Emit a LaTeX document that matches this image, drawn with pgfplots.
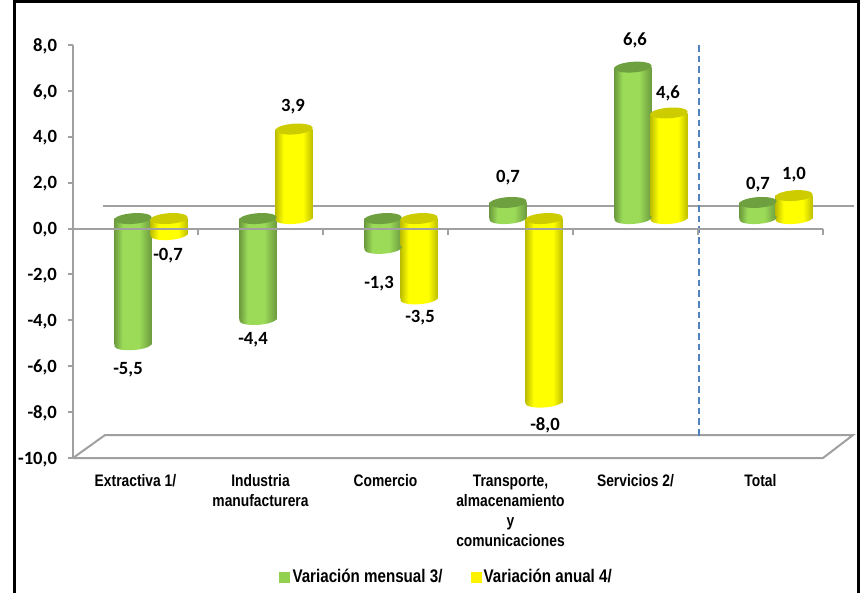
\documentclass[border=0pt]{standalone}
\usepackage{fontspec}
\usepackage{pgfplots}
\usepackage{pgfplotstable}
\pgfplotsset{compat=1.18}
\setmainfont{Carlito}
\newfontfamily\narrowfont[FakeStretch=0.83]{Liberation Sans}

\definecolor{axgray}{HTML}{A0A0A0}
\definecolor{gmid}{HTML}{9BDB58}
\definecolor{gdark}{HTML}{6C9A3E}
\definecolor{gcap}{HTML}{6FA040}
\definecolor{ymid}{HTML}{FFFF00}
\definecolor{ydark}{HTML}{BDBD00}
\definecolor{ycap}{HTML}{CCCC00}
\definecolor{dashblue}{HTML}{4F81BD}
\definecolor{leggreen}{HTML}{92D050}

\pgfdeclarehorizontalshading{cylgreen}{100bp}{color(0bp)=(gdark);color(25bp)=(gdark);color(36bp)=(gmid);color(58bp)=(gmid);color(75bp)=(gdark);color(100bp)=(gdark)}
\pgfdeclarehorizontalshading{cylyellow}{100bp}{color(0bp)=(ydark);color(25bp)=(ydark);color(36bp)=(ymid);color(62bp)=(ymid);color(75bp)=(ydark);color(100bp)=(ydark)}

% bar ends
\newcommand\capellipse{\pgfpathellipse{\pgfpointorigin}{\pgfqpoint{14pt}{1pt}}{\pgfqpoint{-0.3pt}{4pt}}}
\pgfdeclareplotmark{gtop}{\capellipse\pgfsetfillcolor{gcap}\pgfusepathqfill}
\pgfdeclareplotmark{ytop}{\capellipse\pgfsetfillcolor{ycap}\pgfusepathqfill}
\pgfdeclareplotmark{gend}{\capellipse\pgfshadepath{cylgreen}{0}\pgfusepath{discard}}
\pgfdeclareplotmark{yend}{\capellipse\pgfshadepath{cylyellow}{0}\pgfusepath{discard}}
\pgfdeclareplotmark{ztick}{\pgfpathmoveto{\pgfqpoint{0pt}{0pt}}\pgfpathlineto{\pgfqpoint{0pt}{-4.5pt}}\pgfusepathqstroke}

% x v low high
\pgfplotstableread{
x v low high
0 -5.5 -5.5 0
1 -4.4 -4.4 0
2 -1.3 -1.3 0
3 0.7 0 0.7
4 6.6 0 6.6
5 0.7 0 0.7
}\mensual
\pgfplotstableread{
x v low high
0 -0.7 -0.7 0
1 3.9 0 3.9
2 -3.5 -3.5 0
3 -8.0 -8.0 0
4 4.6 0 4.6
5 1.0 0 1.0
}\anual
\pgfplotstableread{
x y t
-0.06 -6.16 -5,5
0.26 -1.2 -0,7
0.94 -4.85 -4,4
1.26 5.33 3,9
1.948 -2.38 -1,3
2.276 -3.9 -3,5
2.98 2.2 0,7
3.276 -8.56 -8,0
3.996 8.2 6,6
4.26 5.9 4,6
4.98 1.93 0,7
5.268 2.37 1,0
}\etiquetas

\pgfplotsset{
  base/.style={
    scale only axis, width=562.5pt, height=309.75pt,
    xmin=-0.5, xmax=5.5, ymin=-10, ymax=8,
    clip=false,
  },
  gbar/.style={ybar,draw=none,bar width=28pt,bar shift=-13.5pt,shading=cylgreen},
  ybarr/.style={ybar,draw=none,bar width=28pt,bar shift=13.5pt,shading=cylyellow},
}

\begin{document}
\begin{tikzpicture}[x=0.75pt,y=0.75pt]
\path[use as bounding box] (0,0) rectangle (861,593);
\draw[black,line width=2.25pt] (14,0) -- (14,591) -- (858,591) -- (858,0);

% walls, floor, category names
\begin{axis}[base, at={(54.75pt,101.25pt)}, anchor=south west,
  axis x line=bottom, axis y line=left,
  axis line style={axgray,line width=1.5pt,-},
  x axis line style={draw=none},
  xtick={0,...,5},
  major x tick style={draw=none},
  xticklabels={Extractiva 1/,{Industria\\manufacturera},Comercio,{Transporte,\\almacenamiento\\y\\comunicaciones},Servicios 2/,Total},
  xticklabel style={align=center,font=\narrowfont\bfseries\fontsize{12.5}{15}\selectfont,yshift=-5pt},
  ytick={-10,-8,...,8},
  y tick style={axgray,line width=1.5pt},
  tick align=outside, major tick length=4pt,
  yticklabel style={font=\bfseries\fontsize{14}{14}\selectfont,xshift=-4.5pt,yshift=-1pt},
  /pgf/number format/assume math mode=true,
  y tick label style={/pgf/number format/.cd,fixed,fixed zerofill,precision=1,use comma},
]
\addplot[axgray,line width=1.5pt] coordinates {(-0.5,-10) (-0.244,-9) (5.74,-9) (5.5,-10) (-0.5,-10)};
\addplot[axgray,line width=1.5pt] coordinates {(-0.26,1) (5.75,1)};
\addplot[dashblue,line width=1.1pt,dash pattern=on 5pt off 3pt] coordinates {(4.508,8) (4.508,-9.13)};
\end{axis}

% cylinders, set back from the axes
\begin{axis}[base, at={(66.4pt,108.75pt)}, anchor=south west, hide axis]
\addplot[only marks,mark=gend,mark options={xshift=-13.5pt}] table[x=x,y=low] {\mensual};
\addplot[gbar] coordinates {(0,-5.5)};
\addplot[gbar] coordinates {(1,-4.4)};
\addplot[gbar] coordinates {(2,-1.3)};
\addplot[gbar] coordinates {(3,0.7)};
\addplot[gbar] coordinates {(4,6.6)};
\addplot[gbar] coordinates {(5,0.7)};
\addplot[only marks,mark=gtop,mark options={xshift=-13.5pt}] table[x=x,y=high] {\mensual};
\addplot[only marks,mark=yend,mark options={xshift=13.5pt}] table[x=x,y=low] {\anual};
\addplot[ybarr] coordinates {(0,-0.7)};
\addplot[ybarr] coordinates {(1,3.9)};
\addplot[ybarr] coordinates {(2,-3.5)};
\addplot[ybarr] coordinates {(3,-8.0)};
\addplot[ybarr] coordinates {(4,4.6)};
\addplot[ybarr] coordinates {(5,1.0)};
\addplot[only marks,mark=ytop,mark options={xshift=13.5pt}] table[x=x,y=high] {\anual};
\end{axis}

% zero line in front, value labels, legend
\begin{axis}[base, at={(54.75pt,101.25pt)}, anchor=south west, hide axis,
  legend style={at={(0.4985,-0.288)},anchor=center,draw=none,fill=none,legend columns=2,
    font=\narrowfont\bfseries\fontsize{13.7}{15}\selectfont,
    /tikz/every even column/.append style={column sep=19pt}},
  legend cell align=left,
  legend image code/.code={\fill[#1] (0pt,-3.75pt) rectangle (7.5pt,3.75pt);},
]
\addlegendimage{leggreen}
\addlegendentry{Variación mensual 3/}
\addlegendimage{yellow}
\addlegendentry{Variación anual 4/}
\addplot[axgray,line width=1.5pt,forget plot] coordinates {(-0.5,0) (5.5,0)};
\addplot[only marks,mark=ztick,axgray,line width=1.5pt,forget plot] coordinates {(0.5,0) (1.5,0) (2.5,0) (3.5,0) (4.5,0) (5.5,0)};
\addplot[only marks,mark=none,forget plot,point meta=explicit symbolic,
  nodes near coords,
  nodes near coords align={center},
  every node near coord/.append style={font=\bfseries\fontsize{14}{14}\selectfont,black,inner sep=0pt},
] table[x=x,y=y,meta=t] {\etiquetas};
\end{axis}
\end{tikzpicture}
\end{document}
